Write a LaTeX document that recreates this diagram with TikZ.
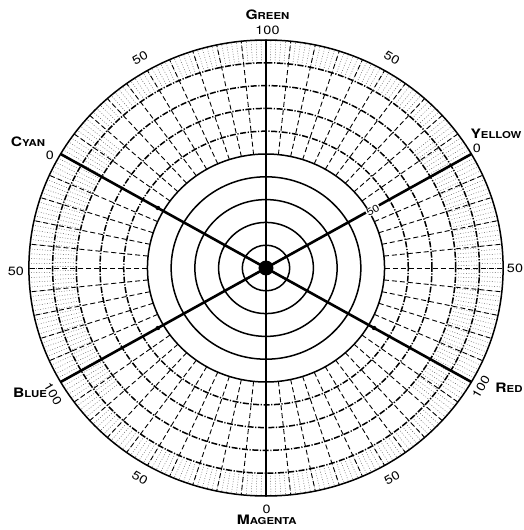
\documentclass[tikz,border=0pt]{standalone}
\usepackage{fontspec}
\newfontfamily\chartfont[FakeStretch=1.2]{TeX Gyre Heros}
\usetikzlibrary{positioning}
\tikzset{
  ringline/.style={draw=black,line width=1.5pt},
  ringdash/.style={ringline,dash pattern=on 6pt off 1.6pt on 1.2pt off 1.6pt},
  spoke/.style={draw=black,line width=2.6pt},
  gridray/.style={draw=black,line width=0.9pt,dash pattern=on 5pt off 3pt},
  fineray/.style={draw=black!70,line width=0.45pt,dash pattern=on 0.8pt off 1.8pt},
  huelabel/.style={font=\chartfont\bfseries,inner sep=0pt},
  scalelabel/.style={font=\chartfont\fontsize{12}{12}\selectfont,inner sep=0pt},
  hubdot/.style={circle,fill=black,minimum size=15pt,inner sep=0pt},
}
\newcommand\huename[2]{{\fontsize{13}{13}\selectfont #1}{\fontsize{9.5}{9.5}\selectfont #2}}

\begin{document}
\begin{tikzpicture}[x=1pt,y=1pt]
  \useasboundingbox (-266,-262) rectangle (258,268);
  \begin{scope}[xscale=1.04]
    % fine hatching near the rim
    \foreach \a in {0,1.2,...,358.8}
      \draw[fineray] (\a:205.2) -- (\a:228);
    \foreach \a in {140,141.2,...,220}
      \draw[fineray] (\a:182.4) -- (\a:205.2);
    \foreach \a in {-40,-38.8,...,40}
      \draw[fineray] (\a:182.4) -- (\a:205.2);
    % hue steps of ten
    \foreach \s in {30,90,...,330}
      \foreach \d in {6,12,...,54}
        \draw[gridray] (\s+\d:114) -- (\s+\d:228);
    % chroma rings
    \foreach \k in {1,...,5}
      \draw[ringline] (0,0) circle (22.8*\k);
    \foreach \k in {6,...,9}
      \draw[ringdash] (0,0) circle (22.8*\k);
    \draw[ringline] (0,0) circle (228);
    % main spokes
    \node[hubdot] (hub) at (0,0) {};
    \foreach \a/\n in {90/green,30/yellow,-30/red,-90/magenta,210/blue,150/cyan}
      \coordinate (\n) at (\a:228);
    \foreach \n in {green,yellow,red,magenta,blue,cyan}
      \draw[spoke] (hub.center) -- (\n);
    \foreach \a in {150,210,-30}
      \fill (\a:120) circle (2.2);
  \end{scope}
  % hue names
  \node[huelabel] (greenname) at (1.5,253) {\huename{G}{REEN}};
  \node[huelabel] (cyanname) at (-238,126) {\huename{C}{YAN}};
  \node[huelabel] (yellowname) at (230,134) {\huename{Y}{ELLOW}};
  \node[huelabel] (bluename) at (-236,-124.5) {\huename{B}{LUE}};
  \node[huelabel] (redname) at (243,-119.5) {\huename{R}{ED}};
  \node[huelabel] (magentaname) at (0.7,-252) {\huename{M}{AGENTA}};
  % scale numbers
  \node[scalelabel] (greennum) at (1.5,237.5) {100};
  \node[scalelabel] (cyannum) at (-216,113) {0};
  \node[scalelabel] (yellownum) at (211,120) {0};
  \node[scalelabel,rotate=-60] (bluenum) at (-213,-126) {100};
  \node[scalelabel,rotate=60] (rednum) at (215,-119) {100};
  \node[scalelabel] (magentanum) at (0.7,-241) {0};
  \node[scalelabel] (rightmid) at (249,0) {50};
  \node[scalelabel] (leftmid) at (-250,-3) {50};
  \node[scalelabel,rotate=30] (ulmid) at (-126,210) {50};
  \node[scalelabel,rotate=-30] (urmid) at (126,210) {50};
  \node[scalelabel,rotate=-30] (llmid) at (-126,-210) {50};
  \node[scalelabel,rotate=30] (lrmid) at (126,-210) {50};
  \node[scalelabel,font=\chartfont\fontsize{10}{10}\selectfont,rotate=30,fill=white,inner sep=0.6pt] (spokemid) at (107,58) {50};
\end{tikzpicture}
\end{document}
